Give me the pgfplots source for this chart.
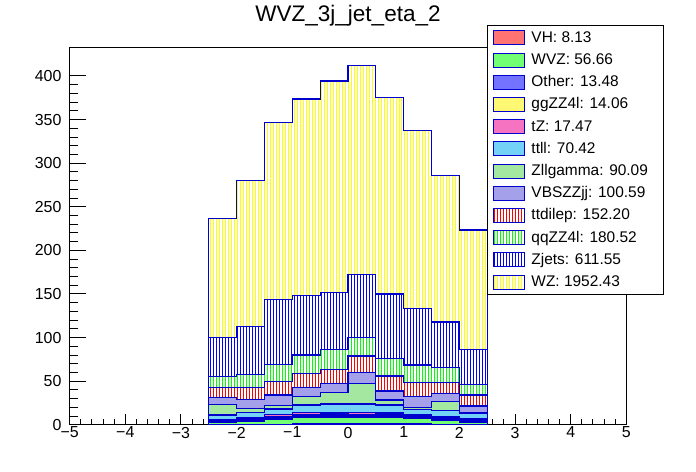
\documentclass[border=0pt]{standalone}
\usepackage{fontspec}
\setmainfont{Liberation Sans}
\usepackage{pgfplots}
\usepackage{pgfplotstable}
\pgfplotsset{compat=1.18}
\usetikzlibrary{patterns}

\pgfdeclarepatternformonly{rootvlines}{\pgfqpoint{-1pt}{-1pt}}{\pgfqpoint{4pt}{4pt}}{\pgfqpoint{3pt}{3pt}}{%
  \pgfsetlinewidth{1pt}%
  \pgfpathmoveto{\pgfqpoint{1.5pt}{-1pt}}%
  \pgfpathlineto{\pgfqpoint{1.5pt}{4pt}}%
  \pgfusepath{stroke}%
}

\definecolor{rootline}{RGB}{0,0,205}
\definecolor{rootc8}{RGB}{89,212,84}
\definecolor{rootc9}{RGB}{89,84,216}

% bin left edges; last row repeats the last bin to close the step at 2.5
\pgfplotstableread{
x     VH   WVZ  Other ggZZ tZ   ttll Zllg VBS  ttdi qqZZ Zjets WZ
-2.5  0.4  2.8  1.0   1.0  1.2  4.8  12.3 8.0  11.5 12.5 44.8  136.5
-2.0  0.5  3.8  1.3   1.2  1.6  5.9  4.6  10.3 13.8 14.9 55.1  167.4
-1.5  0.7  6.0  1.5   1.5  1.9  6.5  4.2  11.7 16.0 19.3 74.6  203.0
-1.0  1.0  7.7  1.5   1.6  2.0  8.9  9.6  10.7 16.0 21.0 68.5  225.1
-0.5  1.1  7.8  1.6   1.8  2.2  9.4  13.3 10.4 16.0 23.0 65.3  242.4
0.0   1.2  7.6  1.6   1.8  2.2  9.5  23.7 12.2 19.1 21.4 72.3  239.7
0.5   1.1  7.6  1.3   1.6  2.0  9.1  5.7  10.4 17.2 20.2 73.8  225.6
1.0   0.9  6.0  1.3   1.4  1.7  6.5  2.2  12.3 16.4 19.9 65.0  204.1
1.5   0.7  4.5  1.4   1.2  1.5  6.7  10.5 9.6  12.6 17.2 52.0  168.2
2.0   0.5  2.8  1.0   1.0  1.2  7.0  1.0  7.1  12.6 12.4 40.0  136.8
2.5   0.5  2.8  1.0   1.0  1.2  7.0  1.0  7.1  12.6 12.4 40.0  136.8
}\datatable

\begin{document}
\begin{tikzpicture}
\path[use as bounding box] (0,0) rectangle (696bp,472bp);
\begin{axis}[
  at={(69.6bp,47.2bp)}, anchor=south west,
  scale only axis,
  width=556.8bp, height=377.6bp,
  xmin=-5, xmax=5, ymin=0, ymax=433,
  stack plots=y,
  axis line style={line width=1bp, black},
  tick align=inside,
  xtick pos=bottom, ytick pos=left,
  xtick={-5,-4,-3,-2,-1,0,1,2,3,4,5},
  xticklabels={−5,−4,−3,−2,−1,0,1,2,3,4,5},
  ytick={0,50,100,150,200,250,300,350,400},
  yticklabels={0,50,100,150,200,250,300,350,400},
  minor x tick num=4, minor y tick num=4,
  x tick style={black, line width=1bp, /pgfplots/major tick length=11.3bp, /pgfplots/minor tick length=5.6bp},
  y tick style={black, line width=1bp, /pgfplots/major tick length=16.7bp, /pgfplots/minor tick length=8.4bp},
  tick label style={font=\fontsize{16}{16}\selectfont, inner sep=0pt},
  xticklabel style={anchor=north, yshift=-2bp},
  yticklabel style={anchor=east, xshift=-8bp},
  every axis title shift=0pt,
  title={WVZ\_3j\_jet\_eta\_2},
  title style={at={(0.5,1.0675)}, anchor=base, yshift=0pt, font=\fontsize{22.6}{24}\selectfont, inner sep=0pt},
  legend style={at={(0.7496,1.0588)}, anchor=north west, draw=black, line width=1bp, fill=white,
    inner xsep=6bp, inner ysep=5bp, row sep=7.2bp, column sep=6bp,
    font=\fontsize{15.5}{16}\selectfont,
    nodes={inner sep=0pt, text height=11.3bp, text depth=2.7bp}},
  legend cell align=left,
  legend image code/.code={\draw[#1, line width=1bp] (0bp,-7bp) rectangle (31bp,7bp);},
  every axis plot/.append style={const plot, draw=rootline, line width=1.3bp},
]
\addplot[fill=red!55] table[x=x,y=VH] {\datatable} \closedcycle;
\addlegendentry{\makebox[126bp][l]{VH: 8.13}}
\addplot[fill=green!55] table[x=x,y=WVZ] {\datatable} \closedcycle;
\addlegendentry{\makebox[126bp][l]{WVZ: 56.66}}
\addplot[fill=blue!55] table[x=x,y=Other] {\datatable} \closedcycle;
\addlegendentry{\makebox[126bp][l]{Other: 13.48}}
\addplot[fill=yellow!55] table[x=x,y=ggZZ] {\datatable} \closedcycle;
\addlegendentry{\makebox[126bp][l]{ggZZ4l: 14.06}}
\addplot[fill=magenta!55] table[x=x,y=tZ] {\datatable} \closedcycle;
\addlegendentry{\makebox[126bp][l]{tZ: 17.47}}
\addplot[fill=cyan!55] table[x=x,y=ttll] {\datatable} \closedcycle;
\addlegendentry{\makebox[126bp][l]{ttll: 70.42}}
\addplot[fill=rootc8!55] table[x=x,y=Zllg] {\datatable} \closedcycle;
\addlegendentry{\makebox[126bp][l]{Zllgamma: 90.09}}
\addplot[fill=rootc9!55] table[x=x,y=VBS] {\datatable} \closedcycle;
\addlegendentry{\makebox[126bp][l]{VBSZZjj: 100.59}}
\addplot[pattern=rootvlines, pattern color=red] table[x=x,y=ttdi] {\datatable} \closedcycle;
\addlegendentry{\makebox[126bp][l]{ttdilep: 152.20}}
\addplot[pattern=rootvlines, pattern color=green] table[x=x,y=qqZZ] {\datatable} \closedcycle;
\addlegendentry{\makebox[126bp][l]{qqZZ4l: 180.52}}
\addplot[pattern=rootvlines, pattern color=blue] table[x=x,y=Zjets] {\datatable} \closedcycle;
\addlegendentry{\makebox[126bp][l]{Zjets: 611.55}}
\addplot[pattern=rootvlines, pattern color=yellow] table[x=x,y=WZ] {\datatable} \closedcycle;
\addlegendentry{\makebox[126bp][l]{WZ: 1952.43}}
\end{axis}
\end{tikzpicture}
\end{document}
